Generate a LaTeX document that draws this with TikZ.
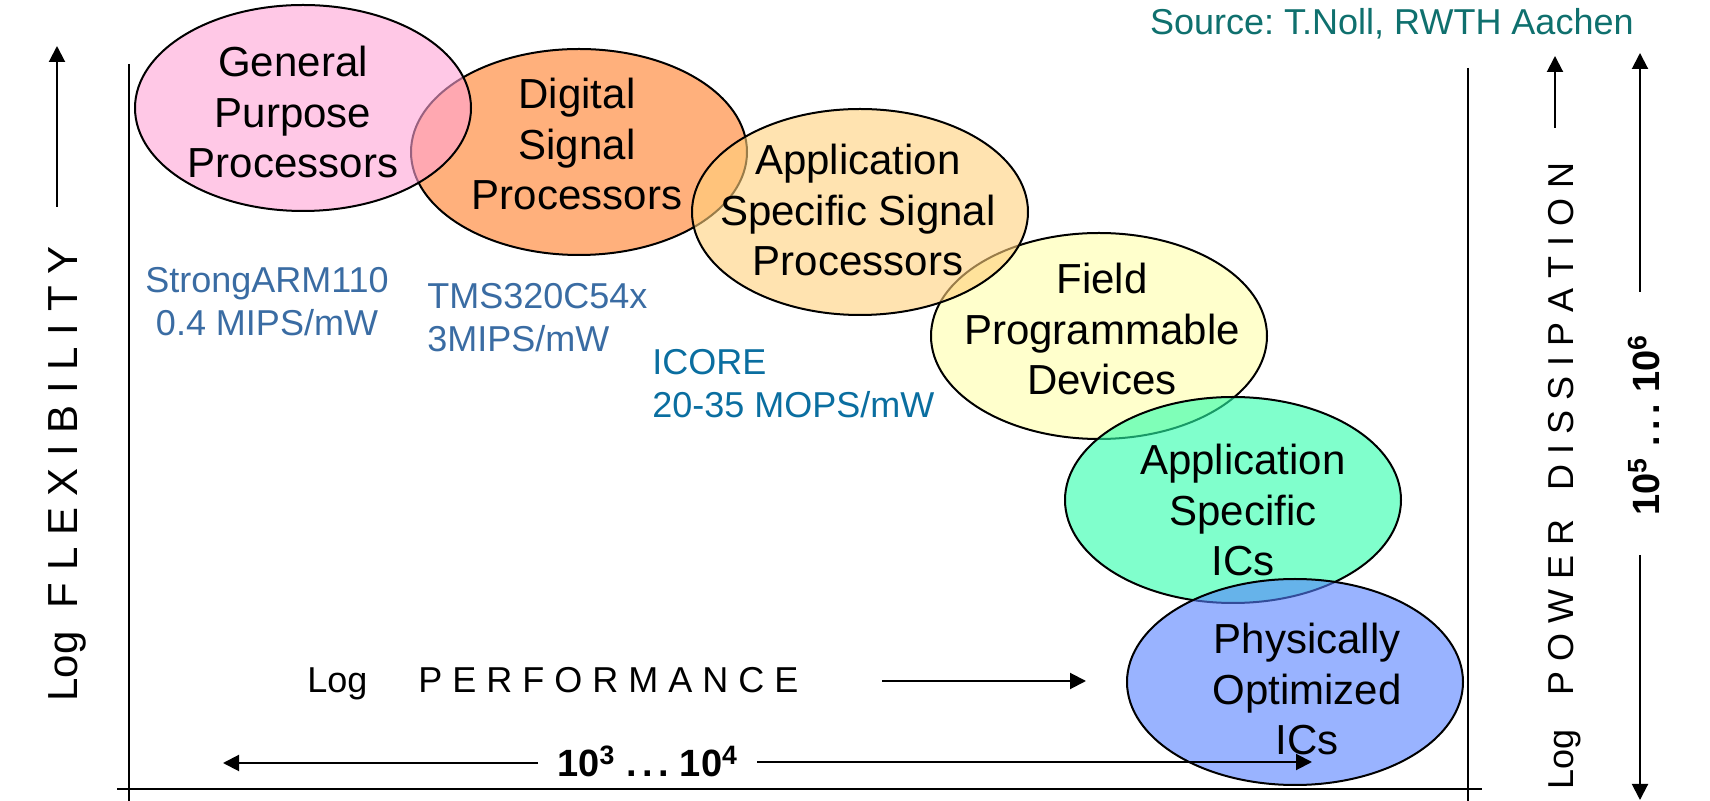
\documentclass[tikz,border=0pt]{standalone}
\usepackage{fontspec}
\setmainfont{Liberation Sans}
\usetikzlibrary{arrows.meta,shapes.geometric}
\definecolor{gppc}{RGB}{255,163,213}
\definecolor{dspc}{RGB}{255,123,37}
\definecolor{asspc}{RGB}{255,208,123}
\definecolor{fpdc}{RGB}{255,255,170}
\definecolor{asicc}{RGB}{43,255,170}
\definecolor{poc}{RGB}{85,128,255}
\definecolor{armblue}{RGB}{58,108,163}
\definecolor{icoreblue}{RGB}{10,110,160}
\definecolor{srcteal}{RGB}{15,112,110}
\newcommand\rdots{\hspace{5.5pt}.\hspace{2.7pt}.\hspace{2.7pt}.\hspace{5.5pt}}
\begin{document}
\frenchspacing
\begin{tikzpicture}[x=0.5pt,y=-0.5pt,
  blob/.style={ellipse, draw=black, line width=1pt, minimum width=168pt, minimum height=103pt, inner sep=0pt, fill opacity=0.6},
  lbl/.style={align=center, inner sep=0pt, font=\fontsize{21}{25.2}\selectfont},
  note/.style={inner sep=0pt, font=\fontsize{18}{21.6}\selectfont},
  rng/.style={inner sep=0pt, font=\bfseries\fontsize{19}{22.8}\selectfont},
  axis/.style={line width=1.1pt},
  arr/.style={line width=1pt, -{Triangle[length=8pt,width=8pt]}}]
\useasboundingbox (0,0) rectangle (1710,801);
% ellipses (order gives the overlaps)
\node[blob, fill=dspc] (dsp) at (579,152) {};
\node[blob, fill=fpdc] (fpd) at (1099,336) {};
\node[blob, fill=gppc] (gpp) at (303,108) {};
\node[blob, fill=asspc] (assp) at (860,212) {};
\node[blob, fill=asicc] (asic) at (1233,500) {};
\node[blob, fill=poc] (po) at (1295,682) {};
% labels
\node[lbl] (gppt) at (293,112) {General\\Purpose\\Processors};
\node[lbl] (dspt) at (577,144) {Digital\\Signal\\Processors};
\node[lbl] (asspt) at (858,210) {Application\\Specific Signal\\Processors};
\node[lbl] (fpdt) at (1102,329) {Field\\Programmable\\Devices};
\node[lbl] (asict) at (1243,510) {Application\\Specific\\ICs};
\node[lbl] (pot) at (1307,689) {Physically\\Optimized\\ICs};
% notes
\node[note, text=armblue, align=center] (arm) at (267,302) {StrongARM110\\0.4 MIPS/mW};
\node[note, text=armblue, align=left, anchor=west] (tms) at (427,317.5) {TMS320C54x\\3MIPS/mW};
\node[note, text=icoreblue, align=left, anchor=west] (icore) at (652,384) {ICORE\\20-35 MOPS/mW};
\node[note, text=srcteal, anchor=base east] (src) at (1634,35) {Source: T.Noll, RWTH Aachen};
% axis labels
\node[rotate=90, anchor=base west, inner sep=0pt, font=\fontsize{21}{25.2}\selectfont] (flex) at (77,702) {Log~~F~L~E~X~I~B~I~L~I~T~Y};
\node[note, rotate=90, anchor=base west] (pow) at (1573,790) {Log\hspace{17pt}P~O~W~E~R\hspace{14.5pt}D~I~S~S~I~P~A~T~I~O~N};
\node[note, anchor=base west] (perf) at (307,693) {Log\hspace{25.5pt}P~E~R~F~O~R~M~A~N~C~E};
\node[rng, anchor=base west] (rh) at (557,777) {10\textsuperscript{3}\rdots 10\textsuperscript{4}};
\node[rng, rotate=90, anchor=base] (rv) at (1659,425) {10\textsuperscript{5}\rdots 10\textsuperscript{6}};
% coordinates
\coordinate (lt) at (129,64); \coordinate (lb) at (129,801);
\coordinate (bl) at (117,789); \coordinate (br) at (1482,789);
\coordinate (rt) at (1468,68); \coordinate (rb) at (1468,801);
\coordinate (fa0) at (57,207); \coordinate (fa1) at (57,46);
\coordinate (pa0) at (1555,128); \coordinate (pa1) at (1555,56);
\coordinate (ru0) at (1640,292); \coordinate (ru1) at (1640,53);
\coordinate (rd0) at (1640,555); \coordinate (rd1) at (1640,800);
\coordinate (pf0) at (882,681); \coordinate (pf1) at (1086,681);
\coordinate (rl0) at (538,763); \coordinate (rl1) at (223,763);
\coordinate (rr0) at (757,762); \coordinate (rr1) at (1312,762);
% axes
\draw[axis] (lt) -- (lb);
\draw[axis] (bl) -- (br);
\draw[axis] (rt) -- (rb);
% arrows
\draw[arr] (fa0) -- (fa1);
\draw[arr] (pa0) -- (pa1);
\draw[arr] (ru0) -- (ru1);
\draw[arr] (rd0) -- (rd1);
\draw[arr] (pf0) -- (pf1);
\draw[arr] (rl0) -- (rl1);
\draw[arr] (rr0) -- (rr1);
\end{tikzpicture}
\end{document}
